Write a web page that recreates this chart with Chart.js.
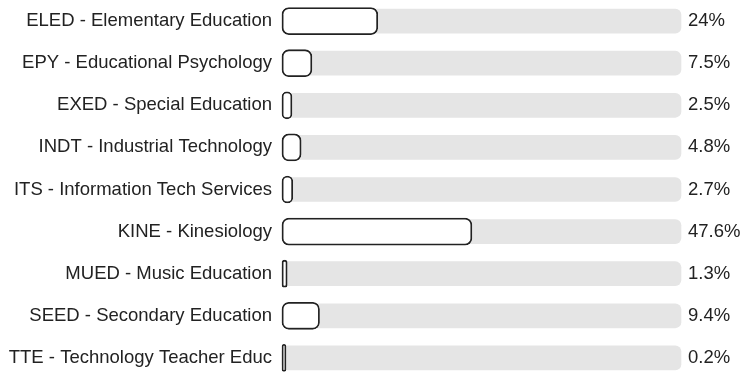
<!DOCTYPE html>
<html>
<head>
    <meta charset="UTF-8" />
    <title>Department share</title>
    <script src="https://cdn.jsdelivr.net/npm/chart.js"></script>
    <style>
        html, body { margin: 0; padding: 0; background: #fff; }
        #wrap { width: 747px; height: 379px; }
    </style>
</head>
<body>
    <div id="wrap"><canvas id="chart"></canvas></div>
    <script>
        // data
        const departments = [
            'ELED - Elementary Education',
            'EPY - Educational Psychology',
            'EXED - Special Education',
            'INDT - Industrial Technology',
            'ITS - Information Tech Services',
            'KINE - Kinesiology',
            'MUED - Music Education',
            'SEED - Secondary Education',
            'TTE - Technology Teacher Educ'
        ];
        const shares = [24, 7.5, 2.5, 4.8, 2.7, 47.6, 1.3, 9.4, 0.2];
        const shareLabels = ['24%', '7.5%', '2.5%', '4.8%', '2.7%', '47.6%', '1.3%', '9.4%', '0.2%'];
        const trackMax = 100;

        const font = { family: 'Liberation Sans, Arial, sans-serif', size: 18.5 };

        // light grey track, slightly lighter at the top
        function trackFill(ctx) {
            const chart = ctx.chart;
            const el = ctx.element;
            if (!chart.chartArea || !el || el.y === undefined) return '#e5e5e5';
            const g = chart.ctx.createLinearGradient(0, el.y - 12, 0, el.y + 12);
            g.addColorStop(0, '#ececec');
            g.addColorStop(1, '#dedede');
            return g;
        }

        new Chart(document.getElementById('chart'), {
            type: 'bar',
            data: {
                labels: departments,
                datasets: [
                    {
                        label: 'share',
                        data: shares,
                        order: 0,
                        backgroundColor: '#ffffff',
                        borderColor: '#222222',
                        borderWidth: 1.8,
                        borderRadius: 7,
                        borderSkipped: false,
                        barThickness: 27,
                        minBarLength: 4,
                        clip: false
                    },
                    {
                        label: 'track',
                        data: departments.map(() => trackMax),
                        order: 1,
                        backgroundColor: trackFill,
                        borderWidth: 0,
                        borderRadius: 6,
                        borderSkipped: false,
                        barThickness: 24,
                        clip: false
                    }
                ]
            },
            options: {
                indexAxis: 'y',
                responsive: true,
                maintainAspectRatio: false,
                animation: false,
                layout: { padding: { top: 21, bottom: 17, left: 0, right: 0 } },
                plugins: { legend: { display: false }, tooltip: { enabled: false } },
                datasets: { bar: { grouped: false } },
                scales: {
                    x: { display: false, min: 0, max: trackMax },
                    y: {
                        offset: false,
                        grid: { display: false, drawTicks: false },
                        border: { display: false },
                        ticks: { color: '#222', font: font, padding: 10 },
                        afterFit: (s) => { s.width = 282; }
                    },
                    y2: {
                        type: 'category',
                        labels: shareLabels,
                        position: 'right',
                        offset: false,
                        grid: { display: false, drawTicks: false },
                        border: { display: false },
                        ticks: { color: '#222', font: font, padding: 7 },
                        afterFit: (s) => { s.width = 66; }
                    }
                }
            }
        });
    </script>
</body>
</html>
